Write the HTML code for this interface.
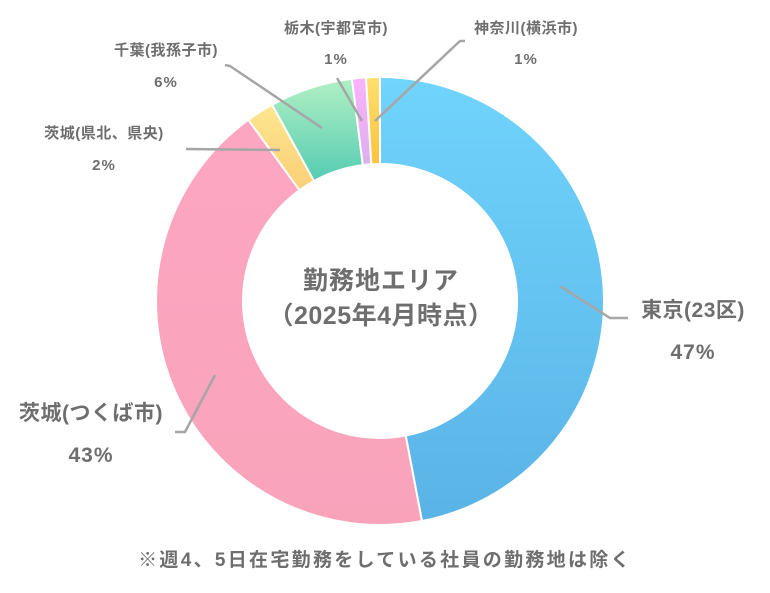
<!DOCTYPE html>
<html><head><meta charset="utf-8"><style>
body{margin:0;background:#fff;width:770px;height:588px;overflow:hidden}
svg text{font-family:"Liberation Sans","Noto Sans CJK JP",sans-serif;font-weight:bold;fill:#6e6e6e}
</style></head><body>
<svg id="c" width="770" height="588">
<defs>
<linearGradient id="g0" x1="0" y1="0" x2="0" y2="1"><stop offset="0" stop-color="#70d4fc"/><stop offset="1" stop-color="#5ab3e6"/></linearGradient>
<linearGradient id="g1" x1="0" y1="0" x2="0" y2="1"><stop offset="0" stop-color="#fda6c2"/><stop offset="1" stop-color="#f9a3bb"/></linearGradient>
<linearGradient id="g2" x1="0" y1="0" x2="0" y2="1"><stop offset="0" stop-color="#fde68f"/><stop offset="1" stop-color="#fccf78"/></linearGradient>
<linearGradient id="g3" x1="0" y1="0" x2="0" y2="1"><stop offset="0" stop-color="#b2f0c4"/><stop offset="1" stop-color="#55ccb2"/></linearGradient>
<linearGradient id="g4" x1="0" y1="0" x2="0" y2="1"><stop offset="0" stop-color="#fbb2fb"/><stop offset="1" stop-color="#dcb0ee"/></linearGradient>
<linearGradient id="g5" x1="0" y1="0" x2="0" y2="1"><stop offset="0" stop-color="#fee070"/><stop offset="1" stop-color="#fcc23c"/></linearGradient>
</defs>
<g id="slices"></g>
<g id="labels"></g>
<text x="381" y="289" text-anchor="middle" font-size="25" letter-spacing="1">勤務地エリア</text>
<text x="381" y="324" text-anchor="middle" font-size="25" letter-spacing="0.5">（2025年4月時点）</text>
<text x="385" y="566" text-anchor="middle" font-size="19" letter-spacing="2.3">※週4、5日在宅勤務をしている社員の勤務地は除く</text>
</svg>
<script>
const categories=["東京(23区)","茨城(つくば市)","茨城(県北、県央)","千葉(我孫子市)","栃木(宇都宮市)","神奈川(横浜市)"];
const values=[47,43,2,6,1,1];
const cx=380,cy=301,R=224,r=137;
const fills=["url(#g0)","url(#g1)","url(#g2)","url(#g3)","url(#g4)","url(#g5)"];
const lab=[
 {nx:693,ny:317,px:693,py:359,fs:21,line:[[560,286],[610,318],[628,318]]},
 {nx:91,ny:420,px:91,py:462,fs:21,line:[[215,375],[185,432],[175,432]]},
 {nx:104,ny:138,px:104,py:170,fs:15,line:[[186,149],[280,150]]},
 {nx:166,ny:55,px:166,py:87,fs:15,line:[[225,65],[230,66],[322,128]]},
 {nx:336,ny:33,px:336,py:64,fs:15,line:[[337,78],[362,121]]},
 {nx:526,ny:33,px:526,py:64,fs:15,line:[[465,41],[460,41],[375,121]]}
];
const total=values.reduce((a,b)=>a+b,0);
const sg=document.getElementById('slices'),lg=document.getElementById('labels');
const NS="http://www.w3.org/2000/svg";
function pt(a,rad){return [cx+rad*Math.sin(a),cy-rad*Math.cos(a)];}
let acc=0;
values.forEach((v,i)=>{
 const a0=acc/total*2*Math.PI;acc+=v;const a1=acc/total*2*Math.PI;
 const big=(a1-a0)>Math.PI?1:0;
 const [x0,y0]=pt(a0,R),[x1,y1]=pt(a1,R),[x2,y2]=pt(a1,r),[x3,y3]=pt(a0,r);
 const p=document.createElementNS(NS,'path');
 p.setAttribute('d',`M${x0},${y0}A${R},${R} 0 ${big} 1 ${x1},${y1}L${x2},${y2}A${r},${r} 0 ${big} 0 ${x3},${y3}Z`);
 p.setAttribute('fill',fills[i]);p.setAttribute('stroke','#fff');p.setAttribute('stroke-width','2');
 
 
 sg.appendChild(p);
 const L=lab[i];
 const pl=document.createElementNS(NS,'polyline');
 pl.setAttribute('points',L.line.map(q=>q.join(',')).join(' '));
 pl.setAttribute('fill','none');pl.setAttribute('stroke','#a6a6a6');pl.setAttribute('stroke-width','2.5');
 
 
 lg.appendChild(pl);
 const t1=document.createElementNS(NS,'text');
 t1.setAttribute('x',L.nx);t1.setAttribute('y',L.ny);t1.setAttribute('text-anchor','middle');t1.setAttribute('font-size',L.fs);
 t1.setAttribute('letter-spacing','0.5');
 t1.textContent=categories[i];
 
 
 lg.appendChild(t1);
 const t2=document.createElementNS(NS,'text');
 t2.setAttribute('x',L.px);t2.setAttribute('y',L.py);t2.setAttribute('text-anchor','middle');t2.setAttribute('font-size',L.fs);
 t2.setAttribute('letter-spacing','1');
 t2.textContent=v+'%';
 
 
 lg.appendChild(t2);
});
</script>
</body></html>
